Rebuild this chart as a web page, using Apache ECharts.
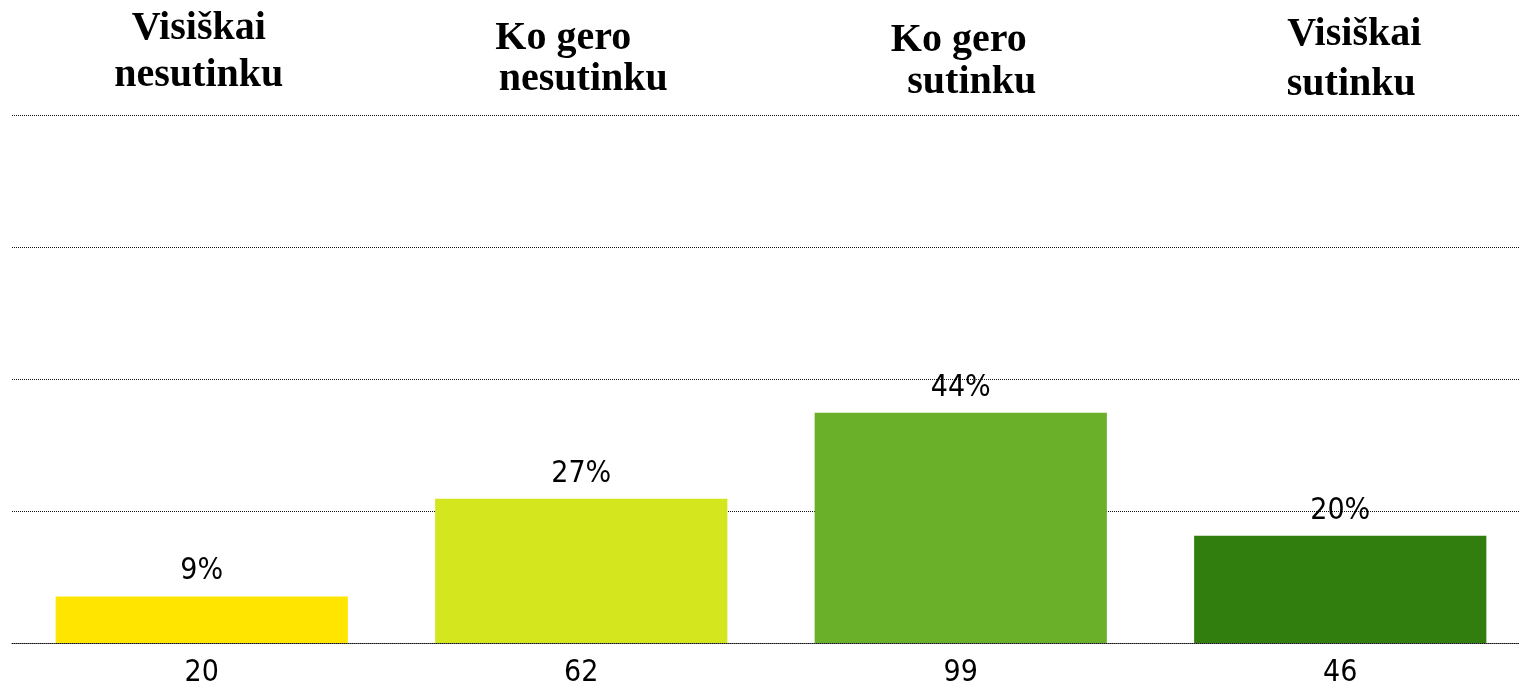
<!DOCTYPE html>
<html>
<head>
<meta charset="utf-8">
<script src="https://cdn.jsdelivr.net/npm/echarts@6/dist/echarts.min.js"></script>
<style>
  html, body { margin: 0; padding: 0; background: #fff; overflow: hidden; }
  #chart { width: 1530px; height: 687px; }
</style>
</head>
<body>
<div id="chart"></div>
<script>
// answer categories (top), respondent counts (bottom), share of answers in %
const headers = ['Visiškai\nnesutinku', 'Ko gero\nnesutinku', 'Ko gero\nsutinku', 'Visiškai\nsutinku'];
const counts = ['20', '62', '99', '46'];
const shares = [8.8, 27.3, 43.6, 20.3];
const barColors = ['#FFE500', '#D4E61E', '#6AB129', '#317E0E'];

// hand tweaks so the header lines sit like in the original slide
const headerLook = [
  { dx: [-3, -3], gap: 47, lift: 11 },
  { dx: [-18, 2], gap: 41, lift: 10 },
  { dx: [-2, 11], gap: 42, lift: 6 },
  { dx: [14, 11], gap: 50, lift: 0 }
];

const SERIF = '"Liberation Serif", "Times New Roman", serif';
const NARROW = '"Liberation Sans Narrow", "DejaVu Sans Condensed", "Liberation Sans", sans-serif';

const rich = {};
headerLook.forEach((h, i) => {
  ['a', 'b'].forEach((k, j) => {
    const dx = h.dx[j];
    rich['t' + i + k] = {
      fontFamily: SERIF,
      fontWeight: 'bold',
      fontSize: 40,
      color: '#000',
      lineHeight: h.gap,
      padding: dx > 0 ? [0, 0, 0, 2 * dx] : [0, -2 * dx, 0, 0]
    };
  });
});

const dotted = { color: '#111', type: 'dotted', width: 1 };

// the canvas is a bit wider than the window: the last column runs past the right edge
const chart = echarts.init(document.getElementById('chart'));
chart.setOption({
  animation: false,
  grid: { left: 12, top: 115, right: 0, bottom: 44, outerBoundsMode: 'none', containLabel: false },
  xAxis: [
    {
      type: 'category',
      position: 'bottom',
      data: counts,
      z: 3,
      axisLine: { show: true, lineStyle: dotted },
      axisTick: { show: false },
      axisLabel: { color: '#000', fontFamily: NARROW, fontSize: 30, margin: 15 }
    },
    {
      type: 'category',
      position: 'top',
      data: headers.map((h, i) => ({ value: h, textStyle: { padding: [0, 0, headerLook[i].lift, 0] } })),
      axisLine: { show: false },
      axisTick: { show: false },
      axisLabel: {
        margin: 5,
        formatter: (v, idx) => v.split('\n').map((l, k) => '{t' + idx + (k ? 'b' : 'a') + '|' + l + '}').join('\n'),
        rich: rich
      }
    }
  ],
  yAxis: {
    type: 'value',
    min: 0,
    max: 100,
    interval: 25,
    axisLine: { show: false },
    axisTick: { show: false },
    axisLabel: { show: false },
    splitLine: { show: true, lineStyle: dotted }
  },
  series: [{
    type: 'bar',
    data: shares.map((v, i) => ({ value: v, itemStyle: { color: barColors[i] } })),
    barCategoryGap: '23%',
    label: {
      show: true,
      position: 'top',
      distance: 10,
      color: '#000',
      fontFamily: NARROW,
      fontSize: 30,
      formatter: p => Math.round(p.value) + '%'
    }
  }]
});
</script>
</body>
</html>
